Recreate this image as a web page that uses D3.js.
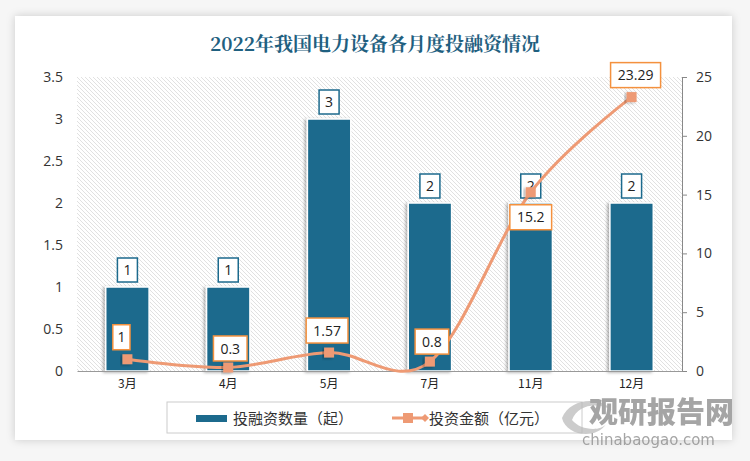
<!DOCTYPE html>
<html><head><meta charset="utf-8">
<script src="https://cdn.jsdelivr.net/npm/d3@7/dist/d3.min.js"></script>
<style>body{margin:0;background:#f4f4f4;}svg{display:block;}</style>
</head><body><svg id="c" width="750" height="461"></svg>
<script>
const categories = ["3月","4月","5月","7月","11月","12月"];
const dealCounts = [1,1,3,2,2,2];
const amounts = [1,0.3,1.57,0.8,15.2,23.29];
const amountLabels = ["1","0.3","1.57","0.8","15.2","23.29"];
const leftTicks = [0,0.5,1,1.5,2,2.5,3,3.5];
const rightTicks = [0,5,10,15,20,25];
const title = "2022年我国电力设备各月度投融资情况";
const seriesNames = ["投融资数量（起）","投资金额（亿元）"];

const svg = d3.select("#c");
const W=750,H=461;
const defs = svg.append("defs");
const f = defs.append("filter").attr("id","sh").attr("x","-10%").attr("y","-10%").attr("width","130%").attr("height","130%");
f.append("feDropShadow").attr("dx",0).attr("dy",0).attr("stdDeviation",4).attr("flood-color","#000").attr("flood-opacity",0.18);
const f2 = defs.append("filter").attr("id","bsh").attr("x","-20%").attr("y","-20%").attr("width","150%").attr("height","150%");
f2.append("feDropShadow").attr("dx",-2).attr("dy",1).attr("stdDeviation",1.5).attr("flood-color","#000").attr("flood-opacity",0.3);
const pat = defs.append("pattern").attr("id","hatch").attr("patternUnits","userSpaceOnUse").attr("width",4).attr("height",4);
pat.append("rect").attr("width",4).attr("height",4).attr("fill","#fff");
pat.append("path").attr("d","M-1,-1 L5,5 M-1,3 L1,5 M3,-1 L5,1").attr("stroke","#e1e1e1").attr("stroke-width",1);

svg.append("rect").attr("width",W).attr("height",H).attr("fill","#f6f6f6");
svg.append("rect").attr("x",15).attr("y",16).attr("width",717).attr("height",424).attr("fill","#fff").attr("filter","url(#sh)");

svg.append("text").attr("x",375).attr("y",51).attr("text-anchor","middle")
  .attr("font-family","'Noto Serif CJK SC','Noto Sans CJK SC',serif").attr("font-size",19).attr("font-weight","bold")
  .attr("fill","#1F6080").text(title);

const L=77,R=682,T=77,B=371;
const x = d3.scaleBand().domain(categories).range([L,R]).paddingInner(0.57).paddingOuter(0.285);
const yL = d3.scaleLinear().domain([0,3.5]).range([B,T]);
const yR = d3.scaleLinear().domain([0,25]).range([B,T]);

svg.append("rect").attr("x",L).attr("y",T).attr("width",R-L).attr("height",B-T).attr("fill","url(#hatch)");

// left axis
const gl = svg.append("g").attr("transform",`translate(${L},0)`)
  .call(d3.axisLeft(yL).tickValues(leftTicks).tickSize(0).tickPadding(14).tickFormat(d3.format("~g")));
gl.select(".domain").remove();
gl.selectAll("text").attr("font-family","'Open Sans','Noto Sans',sans-serif").attr("font-size",14).attr("fill","#333");

// right axis
const gr = svg.append("g").attr("transform",`translate(${R},0)`)
  .call(d3.axisRight(yR).tickValues(rightTicks).tickSize(5).tickPadding(9));
gr.select(".domain").attr("stroke","#888");
gr.selectAll("line").attr("stroke","#888");
gr.selectAll("text").attr("font-family","'Open Sans','Noto Sans',sans-serif").attr("font-size",14).attr("fill","#333");

// bars
svg.append("g").selectAll("rect").data(dealCounts).join("rect")
  .attr("x",(d,i)=>x(categories[i])).attr("y",d=>yL(d))
  .attr("width",x.bandwidth()).attr("height",d=>B-yL(d))
  .attr("fill","#1C6A8D").attr("stroke","#fff").attr("stroke-width",1.5).attr("filter","url(#bsh)");

// bottom axis
const gb = svg.append("g").attr("transform",`translate(0,${B})`)
  .call(d3.axisBottom(x).tickSize(0).tickPadding(8));
gb.select(".domain").attr("stroke","#999").attr("stroke-width",1.2);
gb.selectAll("text").attr("font-family","'Noto Sans CJK SC',sans-serif").attr("font-size",12).attr("fill","#222");

// bar labels
const bl = svg.append("g").selectAll("g").data(dealCounts).join("g")
  .attr("transform",(d,i)=>`translate(${x(categories[i])+x.bandwidth()/2},${yL(d)-17})`);
bl.append("rect").attr("x",-10).attr("y",-12).attr("width",20).attr("height",24).attr("fill","#fff").attr("stroke","#1C6A8D").attr("stroke-width",1.5);
bl.append("text").attr("text-anchor","middle").attr("dy","0.36em").attr("font-family","'Open Sans','Noto Sans',sans-serif").attr("font-size",14).attr("fill","#222").text(d=>d);

// line
const cx = i => x(categories[i])+x.bandwidth()/2;
const line = d3.line().x((d,i)=>cx(i)).y(d=>yR(d)).curve(d3.curveCatmullRom.alpha(0));
svg.append("path").datum(amounts).attr("d",line).attr("fill","none").attr("stroke","#EE9A74").attr("stroke-width",3);
svg.append("g").selectAll("rect").data(amounts).join("rect")
  .attr("x",(d,i)=>cx(i)-5).attr("y",d=>yR(d)-5).attr("width",10).attr("height",10).attr("fill","#EE9A74")
  .attr("filter","url(#bsh)");

// line labels
const offs = [[-6,-22],[2,-19],[-2,-22],[2,-20],[0,25],[4,-22]];
const ll = svg.append("g").selectAll("g").data(amounts).join("g")
  .attr("transform",(d,i)=>`translate(${cx(i)+offs[i][0]},${yR(d)+offs[i][1]})`);
ll.each(function(d,i){
  const g=d3.select(this);
  const t=amountLabels[i];
  const w = t.length*8.2+9;
  g.append("rect").attr("x",-w/2).attr("y",-12.5).attr("width",w).attr("height",25).attr("fill","#fff").attr("stroke","#F4913E").attr("stroke-width",1.5);
  g.append("text").attr("text-anchor","middle").attr("dy","0.36em").attr("font-family","'Open Sans','Noto Sans',sans-serif").attr("font-size",14).attr("fill","#222").text(t);
});

// legend
svg.append("rect").attr("x",167).attr("y",402).attr("width",415).attr("height",31).attr("fill","#fff").attr("stroke","#ccc");
svg.append("rect").attr("x",196).attr("y",415).attr("width",31).attr("height",7).attr("fill","#1C6A8D");
svg.append("text").attr("x",233).attr("y",424).attr("font-family","'Noto Sans CJK SC',sans-serif").attr("font-size",15).attr("fill","#333").text(seriesNames[0]);
svg.append("line").attr("x1",392).attr("x2",426).attr("y1",418).attr("y2",418).attr("stroke","#EE9A74").attr("stroke-width",3);
svg.append("rect").attr("x",403).attr("y",413).attr("width",10).attr("height",10).attr("fill","#EE9A74");
svg.append("path").attr("d","M421,418 L425,414 L429,418 L425,422 Z").attr("fill","#EE9A74");
svg.append("text").attr("x",429).attr("y",424).attr("font-family","'Noto Sans CJK SC',sans-serif").attr("font-size",15).attr("fill","#333").text(seriesNames[1]);

// watermark
const wm = svg.append("g").attr("opacity",0.75);
wm.append("path").attr("d","M562,418 C570,398 600,396 612,410 C598,402 578,404 572,420 C580,430 600,432 606,424 C596,440 566,436 562,418 Z").attr("fill","#bbb");
wm.append("text").attr("x",589).attr("y",423).attr("font-family","'Noto Sans CJK SC',sans-serif").attr("font-weight","900").attr("font-size",29).attr("fill","#888").text("观研报告网");
wm.append("text").attr("x",582).attr("y",445).attr("font-family","'DejaVu Sans',sans-serif").attr("font-size",15).attr("fill","#888").text("chinabaogao.com");
</script></body></html>
